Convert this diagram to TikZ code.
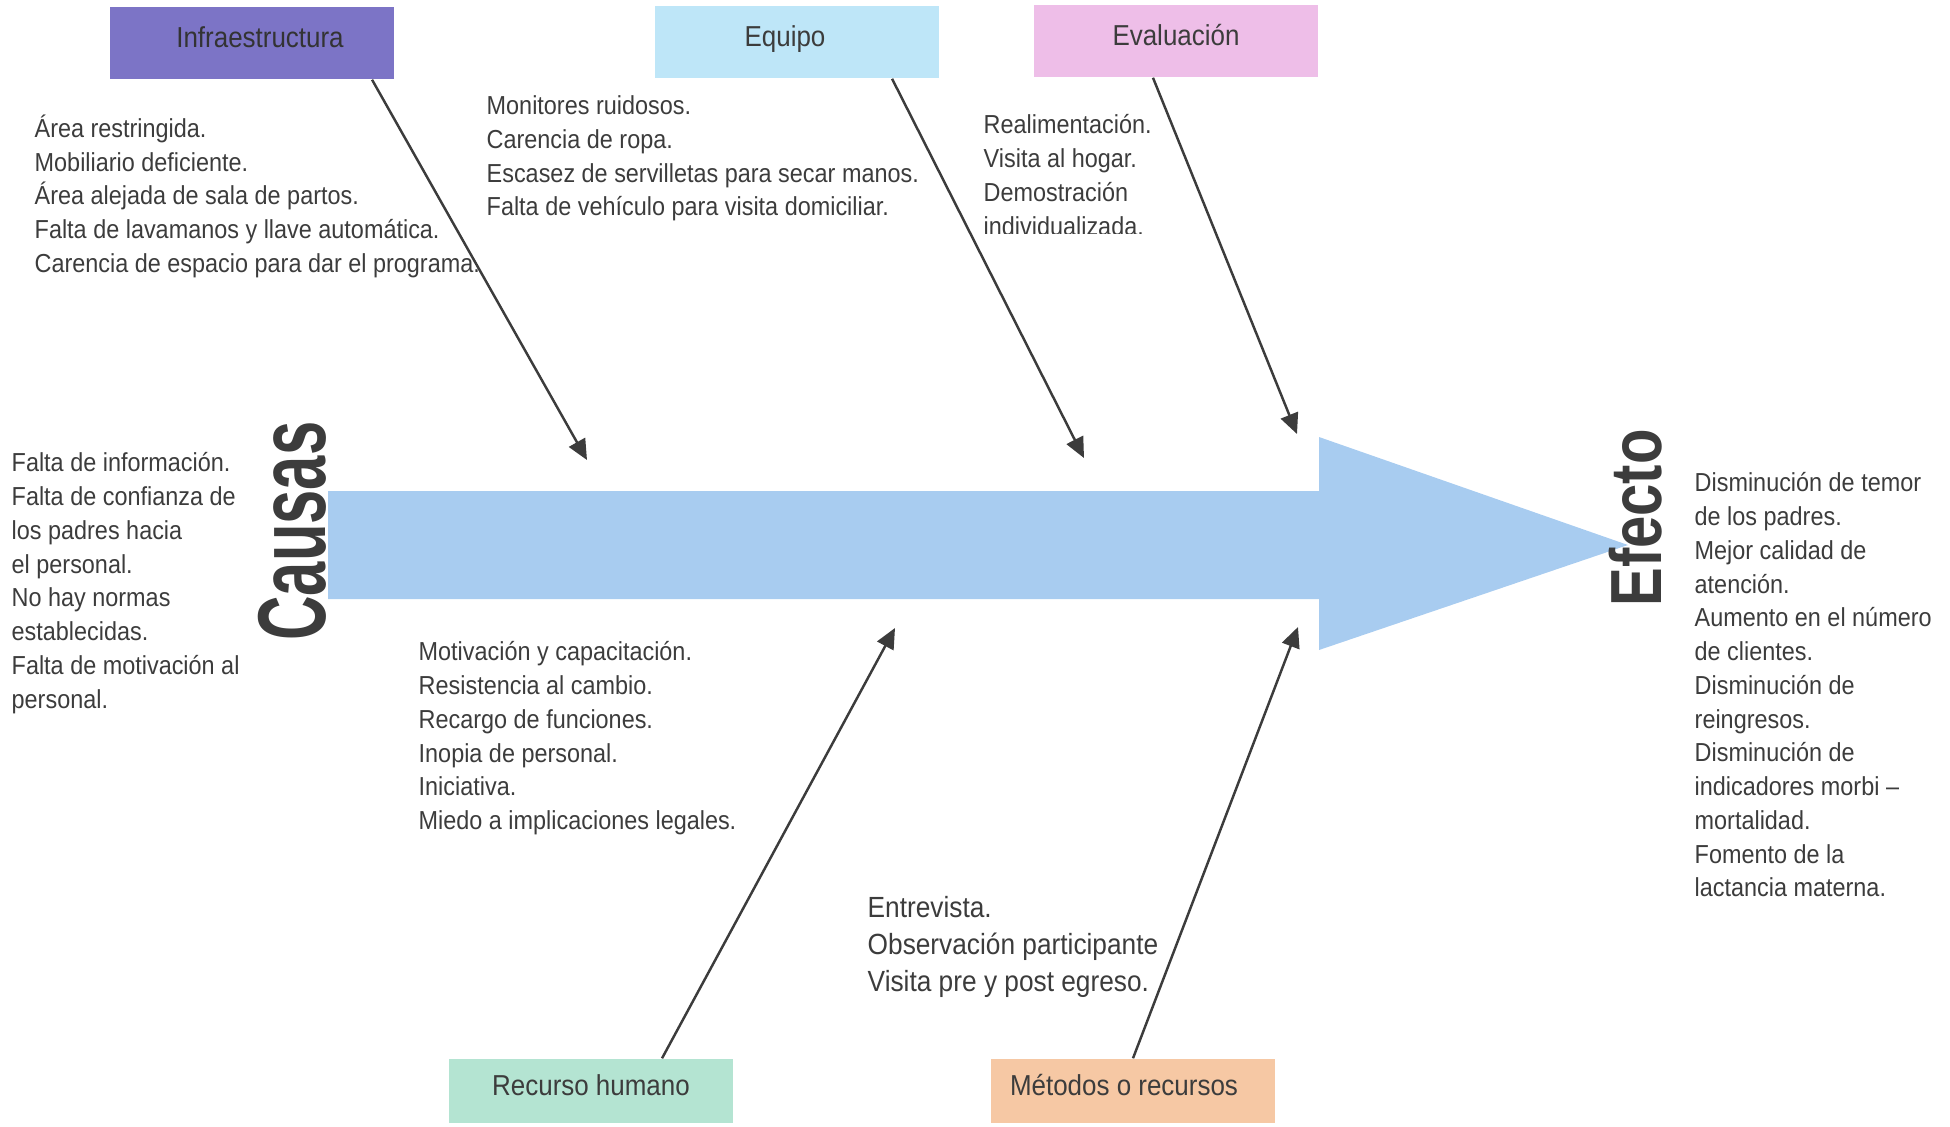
\documentclass[tikz,border=0pt]{standalone}
\usepackage{fontspec}
\setmainfont[FakeStretch=0.9]{Liberation Sans}
\usetikzlibrary{arrows.meta}
\definecolor{Ink}{HTML}{3C3C3C}
\definecolor{Purple}{HTML}{7C74C6}
\definecolor{Sky}{HTML}{BEE6F8}
\definecolor{Pink}{HTML}{EEBEE8}
\definecolor{Mint}{HTML}{B4E4D2}
\definecolor{Peach}{HTML}{F6C8A4}
\definecolor{Spine}{HTML}{A8CCF0}

\begin{document}
\begin{tikzpicture}[x=0.01cm,y=-0.01cm,
    cat/.style={rectangle,minimum width=2.84cm,minimum height=0.72cm,inner sep=0pt,
      text height=6pt,text depth=3.6pt,text=Ink,font=\fontsize{8.2}{10}\selectfont},
    items/.style={anchor=north west,align=left,inner sep=0pt,text=Ink,
      font=\fontsize{7.4}{9.6}\selectfont},
    bone/.style={draw=Ink,line width=0.7pt,-{Triangle[length=5.8pt,width=5.2pt]}}]
  \useasboundingbox (0,0) rectangle (1950,1126);

  % main spine
  \fill[Spine] (328,491) -- (1319,491) -- (1319,437) -- (1628,545)
    -- (1319,650) -- (1319,599) -- (328,599) -- cycle;
  \node[rotate=90,text=Ink,inner sep=0pt] (causas) at (292,531)
    {\fontsize{27.4}{30}\selectfont\bfseries\scalebox{0.71}[1]{Causas}};
  \node[rotate=90,text=Ink,inner sep=0pt] (efecto) at (1636,518)
    {\fontsize{20.6}{24}\selectfont\bfseries\scalebox{0.89}[1]{Efecto}};

  % category boxes
  \node[cat,fill=Purple,text=black!80] (infra) at (252,43) {\hspace*{0.16cm}Infraestructura};
  \node[cat,fill=Sky] (equipo) at (797,42) {Equipo\hspace*{0.24cm}};
  \node[cat,fill=Pink] (evalua) at (1176,41) {Evaluación};
  \node[cat,fill=Mint,minimum height=0.64cm] (recurso) at (591,1091) {Recurso humano};
  \node[cat,fill=Peach,minimum height=0.64cm] (metodos) at (1133,1091) {Métodos o recursos\hspace*{0.18cm}};

  % bones
  \coordinate (tipA) at (587,460);
  \coordinate (tipB) at (1084,458);
  \coordinate (tipC) at (1297,434);
  \coordinate (tipD) at (895,628);
  \coordinate (tipE) at (1298,627);
  \draw[bone] ([xshift=1.2cm]infra.south) -- (tipA);
  \draw[bone] ([xshift=0.95cm]equipo.south) -- (tipB);
  \draw[bone] ([xshift=-0.23cm]evalua.south) -- (tipC);
  \draw[bone] ([xshift=0.71cm]recurso.north) -- (tipD);
  \draw[bone] (metodos.north) -- (tipE);

  % causes
  \node[items] (infraList) at (34,114) {Área restringida.\\Mobiliario deficiente.\\
    Área alejada de sala de partos.\\Falta de lavamanos y llave automática.\\
    Carencia de espacio para dar el programa.};
  \node[items] (equipoList) at (486,95) {Monitores ruidosos.\\Carencia de ropa.\\
    Escasez de servilletas para secar manos.\\Falta de vehículo para visita domiciliar.};
  \begin{scope}
    \clip (950,100) rectangle (1250,233);
    \node[items] (evaluaList) at (983,114) {Realimentación.\\Visita al hogar.\\
      Demostración\\individualizada.};
  \end{scope}
  \node[items] (causasList) at (11,452) {Falta de información.\\Falta de confianza de\\
    los padres hacia\\el personal.\\No hay normas\\establecidas.\\
    Falta de motivación al\\personal.};
  \node[items] (recursoList) at (418,641) {Motivación y capacitación.\\Resistencia al cambio.\\
    Recargo de funciones.\\Inopia de personal.\\Iniciativa.\\Miedo a implicaciones legales.};
  \node[items,font=\fontsize{8.3}{10.5}\selectfont] (metodosList) at (867,896)
    {Entrevista.\\Observación participante\\Visita pre y post egreso.};

  % effects
  \node[items] (efectoList) at (1694,472) {Disminución de temor\\de los padres.\\
    Mejor calidad de\\atención.\\Aumento en el número\\de clientes.\\Disminución de\\
    reingresos.\\Disminución de\\indicadores morbi –\\mortalidad.\\Fomento de la\\
    lactancia materna.};
\end{tikzpicture}
\end{document}
